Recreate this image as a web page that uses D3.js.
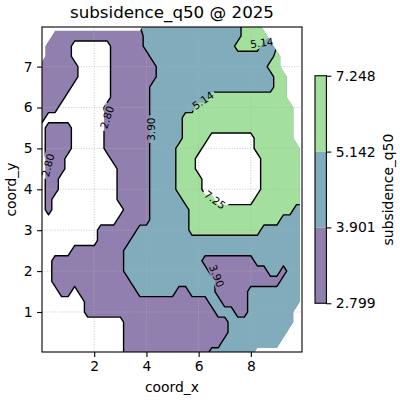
<!DOCTYPE html>
<html><head><meta charset="utf-8">
<script src="https://cdn.jsdelivr.net/npm/d3@7"></script>
<style>body{margin:0;background:#fff} text{font-family:"DejaVu Sans",sans-serif;fill:#000}</style>
</head><body><svg id="c" width="400" height="400" xmlns="http://www.w3.org/2000/svg"></svg>
<script>
// ---------------- data ----------------
const titleText = "subsidence_q50 @ 2025";
const xLabel = "coord_x", yLabel = "coord_y", cbLabel = "subsidence_q50";
const levels = [2.799, 3.901, 5.142, 7.248];
const levelTickLabels = ["2.799", "3.901", "5.142", "7.248"];
const xTicks = [2, 4, 6, 8];
const yTicks = [1, 2, 3, 4, 5, 6, 7];
// representative value of each band
const bandValues = { w: 2.30, p: 3.30, t: 4.50, g: 5.78, h: 8.72 };
// sampled field on a 0.25 grid (x 0..10, y 8..0), run-length coded; "." = no data
const gridStep = 0.25;
const fieldRuns = [
  "16. 15t 3g 7.",
  "2. 14p 15t 4g 6.",
  "1. 4p 6w 5p 14t 4g 2t 5.",
  "1. 4p 6w 6p 19t 1g 4.",
  "6p 5w 7p 17t 2g 4.",
  "6p 5w 7p 18t 2g 3.",
  "5p 6w 6p 19t 2g 3.",
  "4p 7w 6p 9t 12g 3.",
  "3p 7w 7p 7t 15g 2.",
  "1p 9w 7p 5t 17g 2.",
  "1w 4p 5w 7p 5t 17g 2.",
  "1w 4p 5w 7p 5t 4g 7h 6g 2.",
  "1w 4p 5w 7p 4t 4g 8h 7g 1.",
  "1w 3p 7w 6p 4t 3g 10h 6g 1.",
  "1w 3p 8w 5p 4t 3g 10h 6g 1.",
  "1w 2p 9w 5p 4t 4g 9h 6g 1.",
  "1w 2p 9w 5p 4t 4g 9h 6g 1.",
  "1w 1p 10w 5p 5t 5g 6h 7g 1.",
  "1w 1p 11w 4p 6t 16g 1t 1.",
  "12w 5p 6t 14g 3t 1.",
  "9w 6p 8t 11g 6t 1.",
  "9w 5p 26t 1.",
  "5w 8p 27t 1.",
  "2w 11p 12t 8p 7t 1.",
  "2w 11p 13t 9p 2t 1p 2t 1.",
  "2w 12p 13t 10p 3t 1.",
  "3w 2p 1w 9p 6t 2p 4t 5p 8t 1.",
  "7w 19p 2t 4p 8t 1.",
  "7w 20p 3t 2p 7t 2.",
  "13w 16p 10t 2.",
  "13w 16p 9t 3.",
  "13w 15p 9t 4.",
  "13w 13p 7t 8."
];
const contourLabels = [
  { text: "2.80", x: 2.49, y: 5.76, angle: -72 },
  { text: "2.80", x: 0.23, y: 4.59, angle: -76 },
  { text: "3.90", x: 4.17, y: 5.47, angle: -90 },
  { text: "5.14", x: 6.17, y: 6.17, angle: -34 },
  { text: "5.14", x: 8.42, y: 7.58, angle: -8 },
  { text: "7.25", x: 6.62, y: 3.74, angle: 36 },
  { text: "3.90", x: 6.69, y: 1.88, angle: 68 }
];

// ---------------- build grid ----------------
function expandRow(s) {
  const out = [];
  s.trim().split(/\s+/).forEach(tok => {
    const n = parseInt(tok, 10);
    const c = tok.slice(String(n).length);
    for (let i = 0; i < n; i++) out.push(c);
  });
  return out;
}
const rowsBottomUp = fieldRuns.map(expandRow).reverse();
const nx = rowsBottomUp[0].length, ny = rowsBottomUp.length;
let vals = new Array(nx * ny);
const mask = new Array(nx * ny);
for (let j = 0; j < ny; j++) for (let i = 0; i < nx; i++) {
  const c = rowsBottomUp[j][i];
  const k = j * nx + i;
  if (c === "." || c === undefined) { vals[k] = NaN; mask[k] = 0; }
  else { vals[k] = bandValues[c]; mask[k] = 1; }
}
// extend values outward beyond the data hull (hidden by the hull clip)
let guard = 0;
while (vals.some(v => isNaN(v)) && guard++ < 200) {
  const next = vals.slice();
  for (let j = 0; j < ny; j++) for (let i = 0; i < nx; i++) {
    const k = j * nx + i;
    if (!isNaN(vals[k])) continue;
    let s = 0, n = 0;
    [[1,0],[-1,0],[0,1],[0,-1]].forEach(([di,dj]) => {
      const ii = i + di, jj = j + dj;
      if (ii >= 0 && ii < nx && jj >= 0 && jj < ny) {
        const v = vals[jj * nx + ii];
        if (!isNaN(v)) { s += v; n++; }
      }
    });
    if (n) next[k] = s / n;
  }
  vals = next;
}

// ---------------- scales ----------------
const plot = { left: 42, right: 302, top: 27, bottom: 352 };
const x = d3.scaleLinear().domain([0, 9.96]).range([plot.left, plot.right]);
const y = d3.scaleLinear().domain([0.022, 7.968]).range([plot.bottom, plot.top]);
const proj = d3.geoTransform({
  point(px, py) { this.stream.point(x((px - 0.5) * gridStep), y((py - 0.5) * gridStep)); }
});
const geo = d3.geoPath(proj);

function blend(c, a) {
  const r = d3.rgb(c);
  return d3.rgb(r.r * a + 255 * (1 - a), r.g * a + 255 * (1 - a), r.b * a + 255 * (1 - a)).formatHex();
}
const vmin = levels[0], vmax = levels[levels.length - 1];
const bandColors = d3.range(levels.length - 1).map(k => {
  const mid = (levels[k] + levels[k + 1]) / 2;
  return blend(d3.interpolateViridis((mid - vmin) / (vmax - vmin)), 0.6);
});
const fillColors = bandColors.concat(["#ffffff"]);

const svg = d3.select("#c");
const defs = svg.append("defs");
defs.append("clipPath").attr("id", "plotClip").append("rect")
  .attr("x", plot.left).attr("y", plot.top)
  .attr("width", plot.right - plot.left).attr("height", plot.bottom - plot.top);
const hull = d3.contours().size([nx, ny]).smooth(true).thresholds([0.5])(mask)[0];
defs.append("clipPath").attr("id", "hullClip").append("path")
  .attr("d", geo(hull)).attr("clip-rule", "evenodd");

// label gaps in contour lines
const lm = defs.append("mask").attr("id", "lblMask").attr("maskUnits", "userSpaceOnUse")
  .attr("x", 0).attr("y", 0).attr("width", 400).attr("height", 400);
lm.append("rect").attr("width", 400).attr("height", 400).attr("fill", "#fff");
contourLabels.forEach(d => {
  const w = d.text.length * 6.4 + 2;
  lm.append("rect").attr("x", -w / 2).attr("y", -5.5).attr("width", w).attr("height", 11)
    .attr("fill", "#000")
    .attr("transform", `translate(${x(d.x)},${y(d.y)}) rotate(${d.angle})`);
});

const contourSets = d3.contours().size([nx, ny]).smooth(true).thresholds(levels)(vals);

// fills
const gPlot = svg.append("g").attr("clip-path", "url(#plotClip)");
const gFill = gPlot.append("g").attr("clip-path", "url(#hullClip)");
gFill.selectAll("path").data(contourSets).join("path")
  .attr("d", geo).attr("fill", (d, i) => fillColors[i]).attr("fill-rule", "evenodd");

// grid
const gGrid = gPlot.append("g").attr("stroke", "#b0b0b0").attr("stroke-width", 0.8)
  .attr("stroke-dasharray", "1,1.6").attr("opacity", 0.85);
gGrid.selectAll("line.gx").data(xTicks).join("line").attr("class", "gx")
  .attr("x1", d => x(d)).attr("x2", d => x(d)).attr("y1", plot.top).attr("y2", plot.bottom);
gGrid.selectAll("line.gy").data(yTicks).join("line").attr("class", "gy")
  .attr("y1", d => y(d)).attr("y2", d => y(d)).attr("x1", plot.left).attr("x2", plot.right);

// contour lines
const gLines = gPlot.append("g").attr("clip-path", "url(#hullClip)")
  .append("g").attr("mask", "url(#lblMask)");
gLines.selectAll("path").data(contourSets).join("path")
  .attr("d", geo).attr("fill", "none").attr("stroke", "#000")
  .attr("stroke-width", 1.4).attr("stroke-linejoin", "round");

// contour labels
svg.append("g").selectAll("text").data(contourLabels).join("text")
  .attr("transform", d => `translate(${x(d.x)},${y(d.y)}) rotate(${d.angle})`)
  .attr("text-anchor", "middle").attr("dy", "0.36em")
  .attr("font-size", "10.5px").text(d => d.text);

// frame
svg.append("rect").attr("x", plot.left).attr("y", plot.top)
  .attr("width", plot.right - plot.left).attr("height", plot.bottom - plot.top)
  .attr("fill", "none").attr("stroke", "#000").attr("stroke-width", 1.1);

// axes
function styleAxis(g) {
  g.select(".domain").remove();
  g.selectAll(".tick line").attr("stroke", "#000").attr("stroke-width", 1.1);
  g.selectAll(".tick text").attr("font-size", "13.9px").attr("font-family", '"DejaVu Sans",sans-serif').attr("fill", "#000");
}
svg.append("g").attr("transform", `translate(0,${plot.bottom})`)
  .call(d3.axisBottom(x).tickValues(xTicks).tickFormat(d3.format("d")).tickSize(4.9).tickPadding(4.5))
  .call(styleAxis);
svg.append("g").attr("transform", `translate(${plot.left},0)`)
  .call(d3.axisLeft(y).tickValues(yTicks).tickFormat(d3.format("d")).tickSize(4.9).tickPadding(4.5))
  .call(styleAxis);

// colorbar
const cb = { left: 315, width: 11.4, top: 75.75, bottom: 303.25 };
const cbScale = d3.scaleLinear().domain([0, levels.length - 1]).range([cb.bottom, cb.top]);
svg.append("g").selectAll("rect").data(bandColors).join("rect")
  .attr("x", cb.left).attr("width", cb.width)
  .attr("y", (d, i) => cbScale(i + 1)).attr("height", (d, i) => cbScale(i) - cbScale(i + 1))
  .attr("fill", d => d);
svg.append("rect").attr("x", cb.left).attr("y", cb.top).attr("width", cb.width)
  .attr("height", cb.bottom - cb.top).attr("fill", "none").attr("stroke", "#000").attr("stroke-width", 1.1);
svg.append("g").attr("transform", `translate(${cb.left + cb.width},0)`)
  .call(d3.axisRight(cbScale).tickValues(d3.range(levels.length)).tickFormat(i => levelTickLabels[i]).tickSize(4.9).tickPadding(4.5))
  .call(styleAxis);

// texts
svg.append("text").attr("x", (plot.left + plot.right) / 2).attr("y", 18)
  .attr("text-anchor", "middle").attr("font-size", "16.7px").text(titleText);
svg.append("text").attr("x", (plot.left + plot.right) / 2).attr("y", 392)
  .attr("text-anchor", "middle").attr("font-size", "13.9px").text(xLabel);
svg.append("text").attr("transform", `translate(16,${(plot.top + plot.bottom) / 2}) rotate(-90)`)
  .attr("text-anchor", "middle").attr("font-size", "13.9px").text(yLabel);
svg.append("text").attr("transform", `translate(393,${(cb.top + cb.bottom) / 2}) rotate(-90)`)
  .attr("text-anchor", "middle").attr("font-size", "13.9px").text(cbLabel);
</script>
</body></html>
